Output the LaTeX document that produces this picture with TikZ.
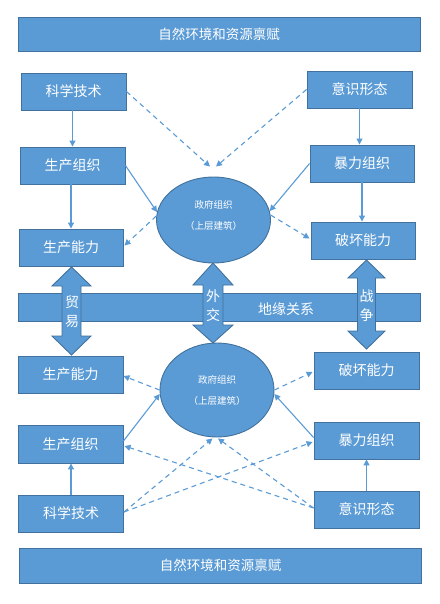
\documentclass[tikz,border=0pt]{standalone}
\usepackage{fontspec}
\setmainfont{Noto Sans CJK SC}
\usetikzlibrary{arrows.meta,calc,shapes.geometric}
\definecolor{fillb}{HTML}{5B9BD5}
\definecolor{edgeb}{HTML}{41719C}
\newcommand\dblarr[7]{%
  \draw[arrshape] (#1,#2) -- (#1+#6,#3) -- (#1+#7,#3) -- (#1+#7,#4) -- (#1+#6,#4) -- (#1,#5)
   -- (#1-#6,#4) -- (#1-#7,#4) -- (#1-#7,#3) -- (#1-#6,#3) -- cycle;}
\tikzset{
  boxb/.style={draw=edgeb, fill=fillb, line width=0.9pt, inner sep=0pt, text=white,
     minimum width=105pt, minimum height=37pt, font=\fontsize{14}{16}\selectfont},
  banner/.style={boxb, minimum width=402pt, minimum height=34pt, font=\fontsize{13.5}{16}\selectfont},
  ell/.style={draw=edgeb, fill=fillb, line width=0.9pt, ellipse, inner sep=0pt},
  arrshape/.style={draw=edgeb, fill=fillb, line width=0.9pt, line join=miter},
  conn/.style={draw=fillb, line width=1.1pt, -{Triangle[length=6pt,width=6pt]}},
  dconn/.style={conn, dash pattern=on 5pt off 4pt},
  wtxt/.style={text=white, inner sep=0pt, font=\fontsize{14}{16}\selectfont},
  stxt/.style={text=white, inner sep=0pt, font=\fontsize{9.5}{11}\selectfont}
}
\begin{document}
\begin{tikzpicture}[x=1pt,y=-1pt]
\useasboundingbox (0,0) rectangle (439,604);
% banners
\node[banner] (top) at (219,34.5) {自然环境和资源禀赋};
\node[banner, minimum height=35pt] (bot) at (220.5,565.5) {自然环境和资源禀赋};
% upper boxes
\node[boxb] (kj1) at (73.5,91.5) {科学技术};
\node[boxb] (ys1) at (359.5,89.5) {意识形态};
\node[boxb] (sz1) at (72.5,165.5) {生产组织};
\node[boxb, minimum width=104pt] (bl1) at (362,163.5) {暴力组织};
\node[boxb, minimum width=104pt] (sn1) at (71,247.5) {生产能力};
\node[boxb, minimum width=104pt] (ph1) at (363,240.5) {破坏能力};
\node[ell, minimum width=114pt, minimum height=86pt] (e1) at (213.5,220) {};
\node[stxt] (e1a) at (213.5,205) {政府组织};
\node[stxt] (e1b) at (213.5,226) {（上层建筑）};
% lower boxes
\node[boxb] (sn2) at (70.5,374.5) {生产能力};
\node[boxb] (ph2) at (366.5,370.5) {破坏能力};
\node[boxb, minimum height=38pt] (sz2) at (70.5,444) {生产组织};
\node[boxb] (bl2) at (366.5,440.5) {暴力组织};
\node[boxb] (kj2) at (71,513.5) {科学技术};
\node[boxb] (ys2) at (366.5,509.5) {意识形态};
\node[ell, minimum width=114pt, minimum height=94pt] (e2) at (217,390) {};
\node[stxt] (e2a) at (217,380) {政府组织};
\node[stxt] (e2b) at (217,401) {（上层建筑）};
% geopolitics bar
\node[boxb, minimum width=402pt, minimum height=28pt] (geo) at (219,307) {};
\node[wtxt] (geot) at (286,309) {地缘关系};
% double arrows
\dblarr{71.5}{267}{286}{336}{355}{19.5}{9.5}
\dblarr{213}{263}{285}{325}{343}{20}{10}
\dblarr{366.5}{260}{278}{331}{349}{18.5}{9}
\node[wtxt] (ta1) at (72,302) {贸};
\node[wtxt] (ta2) at (72,322) {易};
\node[wtxt] (tb1) at (213,296) {外};
\node[wtxt] (tb2) at (213,315) {交};
\node[wtxt] (tc1) at (366.5,296) {战};
\node[wtxt] (tc2) at (366.5,315) {争};
% upper connectors
\coordinate (e1t1) at ($(e1.north)+(-3.5,-10)$);
\coordinate (e1t2) at ($(e1.north)+(2.5,-10)$);
\draw[dconn] (kj1.east) -- (e1t1);
\draw[dconn] (ys1.west) -- (e1t2);
\draw[conn] (kj1.south -| sz1.north) -- (sz1.north);
\draw[conn] (ys1.south) -- (ys1.south |- bl1.north);
\draw[conn] (sz1.east) -- (e1.172);
\draw[conn] (bl1.west) -- (e1.9);
\draw[conn] (sz1.south -| sn1.north) -- (sn1.north);
\draw[conn] (bl1.south) -- (bl1.south |- ph1.north);
\draw[dconn] (e1.176) -- ($(sn1.east)+(1,-2)$);
\draw[dconn] (e1.5) -- ($(ph1.west)+(-1,-2)$);
% lower connectors
\draw[dconn] (e2.180) -- ($(sn2.east)+(0,1.5)$);
\draw[dconn] (e2.0) -- ($(ph2.west)+(-1,1.5)$);
\draw[conn] ($(sz2.east)+(0,-3)$) -- (e2.184);
\draw[conn] ($(bl2.west)+(0,-3)$) -- (e2.-4);
\draw[conn] (kj2.north) -- (kj2.north |- sz2.south);
\draw[conn] (ys2.north) -- (ys2.north |- bl2.south);
\coordinate (e2b1) at ($(e2.south)+(-4.5,1)$);
\coordinate (e2b2) at ($(e2.south)+(1,1)$);
\draw[dconn] ($(kj2.east)+(0,-1.5)$) -- (e2b1);
\draw[dconn] ($(kj2.east)+(0,-1.5)$) -- ($(bl2.west)+(-1,1.5)$);
\draw[dconn] ($(ys2.west)+(0,-1.5)$) -- (e2b2);
\draw[dconn] ($(ys2.west)+(0,-1.5)$) -- ($(sz2.east)+(1,2)$);
\end{tikzpicture}
\end{document}
